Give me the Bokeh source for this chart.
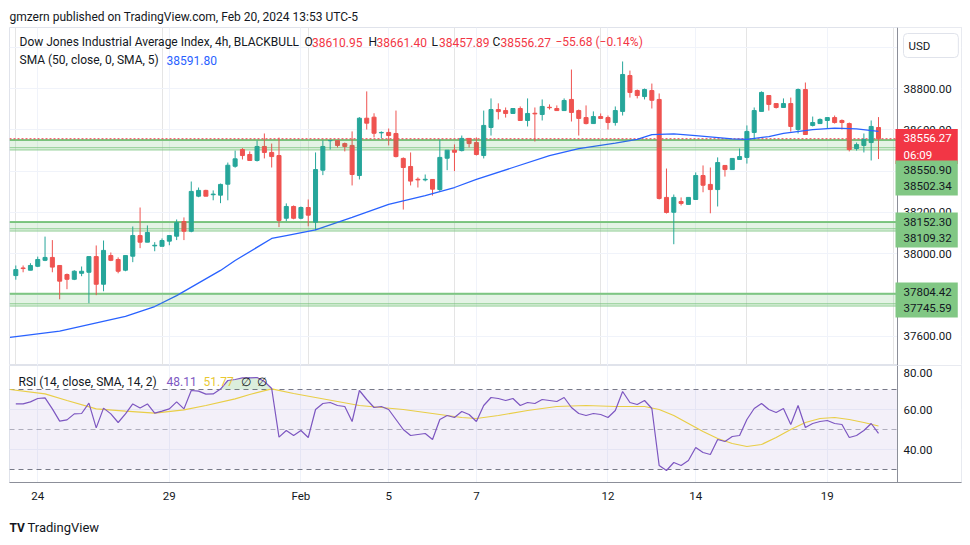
from bokeh.plotting import figure
from bokeh.layouts import column
from bokeh.models import (ColumnDataSource, FixedTicker, Range1d, Label, Span,
                          BoxAnnotation, Grid, NumeralTickFormatter, Title)
from bokeh.embed import file_html
from bokeh.resources import INLINE

# ---------------- data ----------------
opens = [37893, 37930, 37919, 37938, 37967, 37981, 37942, 37898, 37875, 37904,
         37909, 37985, 37851, 37990, 37971, 37919, 37987, 38087, 38055, 38037,
         38035, 38060, 38084, 38155, 38108, 38278, 38306, 38285, 38283, 38336,
         38423, 38504, 38480, 38451, 38519, 38490, 38475, 38171, 38228, 38171,
         38223, 38152, 38404, 38547, 38548, 38533, 38524, 38378, 38656, 38661,
         38585, 38587, 38582, 38461, 38422, 38360, 38357, 38359, 38310, 38462,
         38501, 38499, 38558, 38538, 38475, 38611, 38698, 38693, 38679, 38703,
         38645, 38680, 38674, 38709, 38703, 38693, 38747, 38693, 38659, 38630,
         38664, 38659, 38635, 38689, 38863, 38790, 38761, 38790, 38747, 38272,
         38200, 38252, 38238, 38262, 38378, 38335, 38310, 38427, 38407, 38456,
         38466, 38587, 38689, 38766, 38727, 38708, 38727, 38601, 38795, 38621,
         38630, 38645, 38659, 38645, 38630, 38509, 38524, 38538, 38610.95]
highs = [37942, 37942, 37953, 37985, 38082, 38065, 37942, 37903, 37919, 37937,
         37985, 38039, 38063, 38005, 37981, 37990, 38131, 38223, 38136, 38055,
         38073, 38087, 38165, 38175, 38349, 38320, 38309, 38306, 38339, 38441,
         38499, 38511, 38495, 38548, 38582, 38533, 38562, 38243, 38233, 38228,
         38262, 38490, 38548, 38548, 38548, 38538, 38592, 38661, 38786, 38680,
         38592, 38606, 38693, 38466, 38490, 38369, 38383, 38359, 38553, 38501,
         38529, 38572, 38558, 38563, 38693, 38752, 38728, 38708, 38703, 38713,
         38752, 38708, 38747, 38723, 38718, 38752, 38892, 38698, 38718, 38689,
         38679, 38669, 38713, 38931, 38887, 38795, 38800, 38824, 38776, 38412,
         38286, 38272, 38272, 38393, 38427, 38417, 38466, 38427, 38461, 38509,
         38621, 38708, 38786, 38766, 38727, 38752, 38756, 38800, 38829, 38664,
         38655, 38659, 38669, 38650, 38635, 38538, 38582, 38645, 38661.40]
lows = [37873, 37909, 37919, 37934, 37963, 37909, 37778, 37827, 37871, 37890,
        37759, 37798, 37817, 37963, 37904, 37914, 37958, 38026, 38055, 38011,
        38035, 38040, 38065, 38065, 38103, 38273, 38278, 38258, 38244, 38258,
        38416, 38456, 38451, 38446, 38461, 38417, 38128, 38157, 38166, 38166,
        38132, 38113, 38380, 38504, 38514, 38495, 38330, 38359, 38601, 38563,
        38558, 38524, 38466, 38213, 38330, 38320, 38350, 38281, 38301, 38404,
        38399, 38495, 38514, 38475, 38461, 38572, 38650, 38659, 38679, 38645,
        38616, 38543, 38645, 38698, 38693, 38693, 38640, 38572, 38626, 38630,
        38655, 38601, 38620, 38669, 38756, 38752, 38747, 38703, 38262, 38194,
        38045, 38233, 38238, 38262, 38297, 38195, 38228, 38373, 38407, 38456,
        38436, 38553, 38689, 38693, 38703, 38708, 38591, 38582, 38577, 38616,
        38630, 38606, 38630, 38601, 38495, 38499, 38490, 38451, 38457.89]
closes = [37922, 37927, 37942, 37971, 37981, 37934, 37866, 37875, 37914, 37914,
          37985, 37851, 38015, 37967, 37914, 37990, 38087, 38055, 38102, 38040,
          38063, 38087, 38150, 38108, 38301, 38306, 38278, 38288, 38335, 38428,
          38459, 38475, 38451, 38519, 38490, 38470, 38160, 38228, 38171, 38223,
          38186, 38407, 38519, 38548, 38524, 38519, 38383, 38656, 38632, 38583,
          38587, 38572, 38470, 38417, 38351, 38357, 38360, 38312, 38466, 38501,
          38491, 38558, 38533, 38480, 38621, 38698, 38688, 38679, 38703, 38645,
          38679, 38677, 38713, 38707, 38693, 38742, 38684, 38655, 38630, 38664,
          38655, 38635, 38693, 38868, 38781, 38766, 38795, 38743, 38267, 38199,
          38272, 38243, 38272, 38378, 38331, 38310, 38441, 38407, 38461, 38470,
          38592, 38693, 38781, 38723, 38708, 38727, 38616, 38795, 38577, 38635,
          38650, 38659, 38635, 38635, 38504, 38528, 38553, 38616, 38556.27]

sma_idx = [-0.8, 6, 15, 19, 22, 28, 30, 35, 37, 41, 46, 51, 56, 60, 63, 68, 73,
           77, 82, 85, 87, 90, 93, 98, 100, 103, 105, 109, 112, 115, 118]
sma_val = [37593, 37624, 37695, 37743, 37796, 37918, 37966, 38073, 38087, 38115,
           38175, 38238, 38281, 38320, 38359, 38417, 38475, 38509, 38535, 38553,
           38576, 38580, 38572, 38556, 38553, 38567, 38582, 38601, 38608, 38604,
           38591.80]

rsi = [62.8, 62.8, 63.8, 65.5, 65.8, 60.3, 54.2, 54.8, 57.8, 58.0,
       63.2, 50.8, 60.7, 57.8, 53.5, 57.8, 62.8, 60.7, 62.8, 58.2,
       59.2, 60.3, 63.8, 60.3, 69.5, 69.2, 67.7, 67.8, 70.2, 74.5,
       75.0, 75.8, 75.8, 76.0, 74.0, 70.5, 46.2, 49.5, 47.0, 49.5,
       46.0, 60.0, 63.0, 63.5, 62.0, 61.5, 54.0, 69.5, 65.0, 61.0,
       61.5, 60.0, 55.0, 50.0, 47.0, 47.5, 48.0, 45.0, 55.0, 57.0,
       56.0, 59.0, 57.5, 54.0, 62.0, 66.0, 65.5, 64.5, 65.5, 62.0,
       63.5, 63.0, 65.0, 64.5, 64.0, 66.0, 61.0, 58.0, 57.0, 58.0,
       57.5, 56.0, 59.5, 69.0, 63.5, 62.5, 64.5, 60.5, 32.0, 29.5,
       33.5, 32.0, 34.5, 41.0, 38.5, 37.5, 45.0, 44.0, 46.5, 47.0,
       55.0, 60.5, 63.0, 60.0, 58.5, 60.5, 52.5, 62.0, 51.0, 53.0,
       54.0, 54.5, 53.0, 52.5, 46.0, 47.0, 49.5, 53.0, 48.11]
rsi_ma_idx = [-0.8, 4, 7, 11, 15, 19, 23, 26, 30, 32, 35, 38, 41, 44, 47, 50, 53,
              56, 59, 61, 63, 66, 70, 74, 78, 82, 86, 88, 90, 92, 94, 96, 98,
              100, 102, 104, 106, 108, 110, 112, 114, 116, 118]
rsi_ma = [70, 67.8, 64.5, 60.3, 59.2, 58.2, 59.8, 62, 65.3, 67.5, 70.3, 68, 66,
          64, 62, 61, 60, 58.5, 57, 56, 55.5, 57, 59.5, 61.5, 62, 61.5, 61.5,
          60, 57, 53, 49, 45.5, 43, 41.5, 42.5, 46, 50, 53.5, 55.5, 56, 55,
          53.5, 51.77]

zones = [(38550.90, 38502.34), (38152.30, 38109.32), (37804.42, 37745.59)]
price_ticks = [37600, 37800, 38000, 38200, 38400, 38600, 38800, 39000]
rsi_ticks = [40, 60]
date_idx = [3, 21, 39, 51, 63, 81, 93, 111]
date_labels = ["24", "29", "Feb", "5", "7", "12", "14", "19"]

# ---------------- styling / layout ----------------
UP, DOWN = "#26A69A", "#EF5350"
TXT = "#131722"
FONT = "Roboto"
GRID = "#F0F3FA"
AXL = "#8C8F99"
RED = "#F23645"

n = len(opens)
idx = list(range(n))
src = ColumnDataSource(dict(
    x=idx, h=highs, l=lows,
    top=[max(o, c) for o, c in zip(opens, closes)],
    bottom=[min(o, c) for o, c in zip(opens, closes)],
    color=[UP if c >= o else DOWN for o, c in zip(opens, closes)]))

# page geometry: frame x 9..961 (price scale strip 897..961 inside the frame)
X0, DX = 15.3, 7.311
XL, XA, XR = (9 - X0) / DX, (897 - X0) / DX, (961 - X0) / DX
P_TOP, P_PER_PX = 39095.8, 4.8485
P_BOT = P_TOP - 338 * P_PER_PX
R_TOP, R_PER_PX = 82.0, 0.5
R_BOT = R_TOP - 117 * R_PER_PX


def bx(px):
    return (px - X0) / DX


def by_main(py):
    return P_TOP - (py - 27) * P_PER_PX


def by_rsi(py):
    return R_TOP - (py - 365) * R_PER_PX


def style_axis(ax, standoff=6):
    ax.major_tick_line_color = None
    ax.minor_tick_line_color = None
    ax.major_tick_out = 0
    ax.major_tick_in = 0
    ax.minor_tick_out = 0
    ax.minor_tick_in = 0
    ax.axis_line_color = AXL
    ax.major_label_text_font = FONT
    ax.major_label_text_font_size = "11.5px"
    ax.major_label_text_color = TXT
    ax.major_label_standoff = standoff


def lab(fig, conv, text, px, py, color=TXT, size="12px", place=None, **kw):
    lb = Label(x=bx(px), y=conv(py), text=text, text_color=color,
               text_font=FONT, text_font_size=size,
               text_baseline="middle", text_align="left", **kw)
    if place is None:
        fig.add_layout(lb)
    else:
        fig.add_layout(lb, place)


def price_strip(fig):
    # white strip that hides grid lines under the price scale, plus its border
    fig.add_layout(BoxAnnotation(left=XA, fill_color="white", fill_alpha=1.0,
                                 line_alpha=0, level="glyph"))
    fig.add_layout(Span(location=XA, dimension="height", line_color=AXL,
                        line_width=1))


xr = Range1d(XL, XR)
main = figure(width=970, height=365, x_range=xr, y_range=Range1d(P_BOT, P_TOP),
              output_backend="svg", toolbar_location=None, title=None,
              x_axis_location=None, y_axis_location="right",
              min_border_left=9, min_border_right=9, min_border_top=27,
              min_border_bottom=0)
main.outline_line_color = "#E0E3EB"
main.border_fill_color = "white"
main.add_layout(Grid(dimension=0, ticker=FixedTicker(ticks=date_idx),
                     grid_line_color=GRID))
ya = main.yaxis[0]
ya.ticker = FixedTicker(ticks=price_ticks)
ya.formatter = NumeralTickFormatter(format="0.00")
style_axis(ya, standoff=-58)
ya.axis_line_color = None
main.ygrid.grid_line_color = GRID

main.add_layout(Title(text="gmzern published on TradingView.com, Feb 20, 2024 13:53 UTC-5",
                      align="left", text_font=FONT, text_font_size="12px",
                      text_font_style="normal", text_color=TXT, standoff=7,
                      offset=0), "above")

# support / resistance zones
for top_lvl, bot_lvl in zones:
    main.add_layout(BoxAnnotation(top=top_lvl, bottom=bot_lvl + 10, left=XL, right=XA,
                                  fill_color="#4CAF50", fill_alpha=0.15,
                                  line_alpha=0))
zone_src = ColumnDataSource(dict(
    y=[z[0] for z in zones] + [z[1] + 10 for z in zones] + [z[1] for z in zones],
    w=[2] * len(zones) + [1] * (2 * len(zones))))
main.segment(x0=XL, x1=XA, y0="y", y1="y", line_color="#81C784",
             line_width="w", source=zone_src)
main.segment(x0=[XL], x1=[XA], y0=[closes[-1]], y1=[closes[-1]],
             line_color=RED, line_dash="2 2", line_width=1)

main.segment(x0="x", y0="h", x1="x", y1="l", color="color", line_width=1, source=src)
main.vbar(x="x", width=0.55, top="top", bottom="bottom", fill_color="color",
          line_color="color", line_width=1, source=src)
main.line(sma_idx, sma_val, line_color="#2962FF", line_width=1.3)
price_strip(main)

lab(main, by_main, "Dow Jones Industrial Average Index, 4h, BLACKBULL", 19, 41.5)
for letter, lx, num, nx in [("O", 304, "38610.95", 311.5), ("H", 368, "38661.40", 376),
                            ("L", 431, "38457.89", 438.5), ("C", 492, "38556.27", 500)]:
    lab(main, by_main, letter, lx, 41.5)
    lab(main, by_main, num, nx, 41.5, color=RED)
lab(main, by_main, "\u221255.68 (\u22120.14%)", 555, 41.5, color=RED)
lab(main, by_main, "SMA (50, close, 0, SMA, 5)", 19, 59.5)
lab(main, by_main, "38591.80", 166, 59.5, color="#2962FF")

# price-scale labels of the last price and of the zones
boxes = [("38556.27\n06:09", 146, RED, "white"),
         ("38550.90\n38502.34", 177.5, "#81C784", TXT),
         ("38152.30\n38109.32", 229.5, "#81C784", TXT),
         ("37804.42\n37745.59", 299.5, "#81C784", TXT)]
for text, cy, bg, fg in boxes:
    lab(main, by_main, text, 895, cy, color=fg, size="11.5px",
        background_fill_color=bg,
        padding=dict(left=8, right=6, top=2, bottom=2))
lab(main, by_main, "USD", 903, 45, size="11.5px",
    background_fill_color="white", border_line_color="#E0E3EB",
    border_radius=4, padding=dict(left=5, right=28, top=5, bottom=5))

# ---------------- RSI pane ----------------
rp = figure(width=970, height=180, x_range=xr, y_range=Range1d(R_BOT, R_TOP),
            output_backend="svg", toolbar_location=None, title=None,
            y_axis_location="right",
            min_border_left=9, min_border_right=9, min_border_top=0,
            min_border_bottom=63)
rp.outline_line_color = "#E0E3EB"
rp.border_fill_color = "white"
rp.xgrid.grid_line_color = GRID
rp.ygrid.grid_line_color = GRID
xa = rp.xaxis[0]
xa.ticker = FixedTicker(ticks=date_idx)
xa.major_label_overrides = {i: s for i, s in zip(date_idx, date_labels)}
style_axis(xa, standoff=6)
ry = rp.yaxis[0]
ry.ticker = FixedTicker(ticks=rsi_ticks)
ry.formatter = NumeralTickFormatter(format="0.00")
style_axis(ry, standoff=-58)
ry.axis_line_color = None

rp.add_layout(BoxAnnotation(bottom=30, top=70, left=XL, right=XA,
                            fill_color="#7E57C2", fill_alpha=0.09, line_alpha=0))
band_src = ColumnDataSource(dict(y=[70, 50, 30], a=[1.0, 0.55, 1.0]))
rp.segment(x0=XL, x1=XA, y0="y", y1="y", line_color="#787B86",
           line_alpha="a", line_dash="5 4", line_width=1, source=band_src)
rp.varea(x=idx, y1=[70] * n, y2=[max(v, 70) for v in rsi],
         fill_color="#4CAF50", fill_alpha=0.2)
rp.line(rsi_ma_idx, rsi_ma, line_color="#F5DA3C", line_width=1.2)
rp.line(idx, rsi, line_color="#7E57C2", line_width=1.2)
price_strip(rp)

lab(rp, by_rsi, "80.00", 903, 372, size="11.5px")
lab(rp, by_rsi, "RSI (14, close, SMA, 14, 2)", 18, 381)
lab(rp, by_rsi, "48.11", 166, 381, color="#7E57C2")
lab(rp, by_rsi, "51.77", 203, 381, color="#E8C832")
lab(rp, by_rsi, "\u2205", 240, 381)
lab(rp, by_rsi, "\u2205", 256, 381)
lab(rp, by_rsi, "TV", 9, 527, size="12px", place="below", text_font_style="bold")
lab(rp, by_rsi, "TradingView", 27, 527, size="13px", place="below")

layout = column(main, rp, spacing=0)
open("out.html", "w").write(file_html(layout, INLINE))
